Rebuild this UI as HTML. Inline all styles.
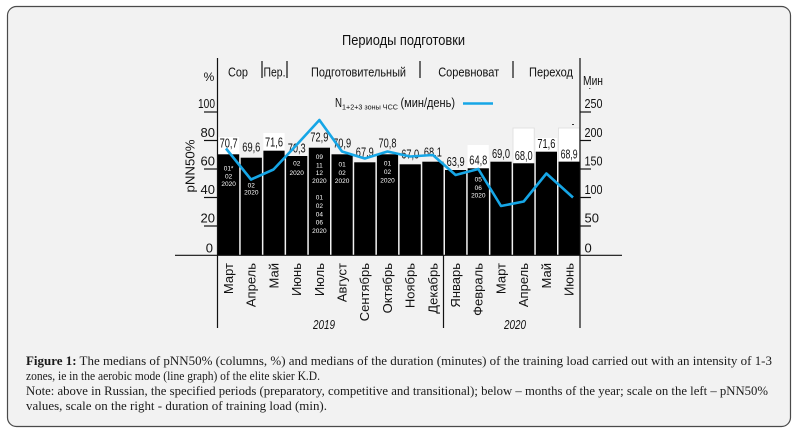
<!DOCTYPE html>
<html><head><meta charset="utf-8"><style>
html,body{margin:0;padding:0;background:#fff;}
svg{display:block;}
.s{font-family:"Liberation Sans","DejaVu Sans",sans-serif;fill:#111;}
.w{font-family:"Liberation Sans",sans-serif;fill:#fff;font-size:6.5px;text-anchor:middle;}
.c{font-family:"Liberation Serif","DejaVu Serif",serif;fill:#1a1a1a;font-size:12.5px;}
</style></head><body>
<svg width="797" height="434" viewBox="0 0 797 434" xmlns="http://www.w3.org/2000/svg">
<rect x="7.5" y="6.5" width="783" height="420" rx="9" fill="#f2f2f2" stroke="#4a4a4a" stroke-width="1.2"/>

<!-- title -->
<text class="s" x="403.5" y="45" font-size="15" text-anchor="middle" textLength="123" lengthAdjust="spacingAndGlyphs">Периоды подготовки</text>

<!-- period row -->
<g class="s" font-size="12.5">
<text x="238" y="76.5" text-anchor="middle" textLength="20" lengthAdjust="spacingAndGlyphs">Сор</text>
<text x="274.5" y="76.5" text-anchor="middle" textLength="22" lengthAdjust="spacingAndGlyphs">Пер.</text>
<text x="358.5" y="76.5" text-anchor="middle" textLength="95" lengthAdjust="spacingAndGlyphs">Подготовительный</text>
<text x="468.7" y="76.5" text-anchor="middle" textLength="61" lengthAdjust="spacingAndGlyphs">Соревноват</text>
<text x="551" y="76.5" text-anchor="middle" textLength="44" lengthAdjust="spacingAndGlyphs">Переход</text>
<text x="209" y="81" text-anchor="middle" font-size="12">%</text>
<text x="583" y="85" textLength="20" lengthAdjust="spacingAndGlyphs">Мин</text>
</g>
<g stroke="#111" stroke-width="1.2">
<line x1="262" y1="61" x2="262" y2="78"/>
<line x1="287" y1="61" x2="287" y2="78"/>
<line x1="420" y1="61" x2="420" y2="78"/>
<line x1="513" y1="61" x2="513" y2="78"/>
</g>
<rect x="589" y="88" width="1.5" height="1" fill="#555"/>
<rect x="572" y="124" width="2" height="1" fill="#333"/>

<!-- legend -->
<text class="s" x="335" y="107" font-size="13" textLength="7" lengthAdjust="spacingAndGlyphs">N</text>
<text class="s" x="342" y="109.5" font-size="7.5" textLength="56" lengthAdjust="spacingAndGlyphs">1+2+3 зоны ЧСС</text>
<text class="s" x="400.5" y="107" font-size="13" textLength="54.5" lengthAdjust="spacingAndGlyphs">(мин/день)</text>
<line x1="463" y1="103.5" x2="493" y2="103.5" stroke="#16a6e6" stroke-width="2.6"/>

<!-- white label boxes -->
<g fill="#ffffff">
<rect x="218" y="137" width="21.2" height="17.3"/>
<rect x="263.4" y="133" width="21.2" height="17.7"/>
<rect x="467.6" y="145" width="21.2" height="23.3"/>
<rect x="513" y="128" width="21.2" height="35.3" stroke="#ddd" stroke-width="0.8"/>
<rect x="535.7" y="138" width="21.2" height="13.7"/>
<rect x="558.4" y="128" width="21.2" height="33.7" stroke="#ddd" stroke-width="0.8"/>
</g>

<!-- bars -->
<g fill="#000">
<rect x="218.0" y="154.3" width="21.2" height="100.7"/>
<rect x="240.7" y="157.7" width="21.2" height="97.3"/>
<rect x="263.4" y="150.7" width="21.2" height="104.3"/>
<rect x="286.1" y="156.0" width="21.2" height="99.0"/>
<rect x="308.8" y="147.7" width="21.2" height="107.3"/>
<rect x="331.5" y="154.3" width="21.2" height="100.7"/>
<rect x="354.2" y="162.3" width="21.2" height="92.7"/>
<rect x="376.9" y="154.3" width="21.2" height="100.7"/>
<rect x="399.6" y="164.3" width="21.2" height="90.7"/>
<rect x="422.3" y="161.7" width="21.2" height="93.3"/>
<rect x="445.0" y="170.0" width="21.2" height="85.0"/>
<rect x="467.7" y="168.3" width="21.2" height="86.7"/>
<rect x="490.4" y="161.7" width="21.2" height="93.3"/>
<rect x="513.1" y="163.3" width="21.2" height="91.7"/>
<rect x="535.8" y="151.7" width="21.2" height="103.3"/>
<rect x="558.5" y="161.7" width="21.2" height="93.3"/>
</g>

<!-- value labels -->
<g class="s" font-size="12.5" text-anchor="middle">
<text x="228.6" y="147.5" textLength="18" lengthAdjust="spacingAndGlyphs">70,7</text>
<text x="251.3" y="151.5" textLength="18" lengthAdjust="spacingAndGlyphs">69,6</text>
<text x="274.0" y="146.5" textLength="18" lengthAdjust="spacingAndGlyphs">71,6</text>
<text x="296.7" y="152.5" textLength="18" lengthAdjust="spacingAndGlyphs">70,3</text>
<text x="319.4" y="141.5" textLength="18" lengthAdjust="spacingAndGlyphs">72,9</text>
<text x="342.1" y="147.5" textLength="18" lengthAdjust="spacingAndGlyphs">70,9</text>
<text x="364.8" y="156.5" textLength="18" lengthAdjust="spacingAndGlyphs">67,9</text>
<text x="387.5" y="147.5" textLength="18" lengthAdjust="spacingAndGlyphs">70,8</text>
<text x="410.2" y="158.5" textLength="18" lengthAdjust="spacingAndGlyphs">67,0</text>
<text x="432.9" y="156.5" textLength="18" lengthAdjust="spacingAndGlyphs">68,1</text>
<text x="455.6" y="166" textLength="18" lengthAdjust="spacingAndGlyphs">63,9</text>
<text x="478.3" y="164.5" textLength="18" lengthAdjust="spacingAndGlyphs">64,8</text>
<text x="501.0" y="157.8" textLength="18" lengthAdjust="spacingAndGlyphs">69,0</text>
<text x="523.7" y="160" textLength="18" lengthAdjust="spacingAndGlyphs">68,0</text>
<text x="546.4" y="147.8" textLength="18" lengthAdjust="spacingAndGlyphs">71,6</text>
<text x="569.1" y="158.5" textLength="17" lengthAdjust="spacingAndGlyphs">68,9</text>
</g>

<!-- white small text inside bars -->
<g class="w">
<text x="228.6" y="170.5">01*</text><text x="228.6" y="178.5">02</text><text x="228.6" y="186">2020</text>
<text x="251.3" y="187.5">02</text><text x="251.3" y="194.5">2020</text>
<text x="296.7" y="165.5">02</text><text x="296.7" y="175">2020</text>
<text x="319.4" y="159">09</text><text x="319.4" y="167.5">11</text><text x="319.4" y="175">12</text><text x="319.4" y="183">2020</text>
<text x="319.4" y="199.5">01</text><text x="319.4" y="208">02</text><text x="319.4" y="216.5">04</text><text x="319.4" y="224.5">06</text><text x="319.4" y="233">2020</text>
<text x="342.1" y="166.5">01</text><text x="342.1" y="175">02</text><text x="342.1" y="183">2020</text>
<text x="387.5" y="165.5">01</text><text x="387.5" y="174">02</text><text x="387.5" y="182.5">2020</text>
<text x="478.3" y="181.5">05</text><text x="478.3" y="190">06</text><text x="478.3" y="197.5">2020</text>
</g>

<!-- line series -->
<polyline fill="none" stroke="#16a6e6" stroke-width="2.6" stroke-linejoin="round" points="226,148.5 251,179.5 273.5,169.5 296.5,145 319.4,120 342,151.5 364.8,158.5 387.5,151.5 410,156.5 432.9,155 455.6,175 478.3,169 501,206 523.7,201.5 546.4,173.5 573,197.5"/>

<!-- axes -->
<g stroke="#111" stroke-width="1.2">
<line x1="217.5" y1="58" x2="217.5" y2="328"/>
<line x1="580" y1="58" x2="580" y2="328"/>
<line x1="443.5" y1="255" x2="443.5" y2="328"/>
<line x1="175" y1="255.3" x2="622" y2="255.3"/>
<line x1="204" y1="112" x2="217.5" y2="112"/>
<line x1="204" y1="140.5" x2="217.5" y2="140.5"/>
<line x1="204" y1="169" x2="217.5" y2="169"/>
<line x1="204" y1="197.5" x2="217.5" y2="197.5"/>
<line x1="204" y1="226" x2="217.5" y2="226"/>
<line x1="580" y1="112" x2="591" y2="112"/>
<line x1="580" y1="140.5" x2="591" y2="140.5"/>
<line x1="580" y1="169" x2="591" y2="169"/>
<line x1="580" y1="197.5" x2="591" y2="197.5"/>
<line x1="580" y1="226" x2="591" y2="226"/>
</g>

<!-- left axis labels -->
<g class="s" font-size="13" text-anchor="end">
<text x="215" y="108" textLength="17" lengthAdjust="spacingAndGlyphs">100</text>
<text x="215" y="137">80</text>
<text x="215" y="165.5">60</text>
<text x="215" y="194">40</text>
<text x="215" y="222.5">20</text>
<text x="213" y="252.5">0</text>
</g>
<text class="s" font-size="13" text-anchor="middle" transform="translate(194.5,166) rotate(-90)" textLength="53" lengthAdjust="spacingAndGlyphs">pNN50%</text>

<!-- right axis labels -->
<g class="s" font-size="13">
<text x="584.5" y="108" textLength="18" lengthAdjust="spacingAndGlyphs">250</text>
<text x="584.5" y="137" textLength="18" lengthAdjust="spacingAndGlyphs">200</text>
<text x="584.5" y="165.5" textLength="18" lengthAdjust="spacingAndGlyphs">150</text>
<text x="584.5" y="194" textLength="18" lengthAdjust="spacingAndGlyphs">100</text>
<text x="584.5" y="222.5">50</text>
<text x="584.5" y="252.5">0</text>
</g>

<!-- month labels -->
<g class="s" font-size="13" text-anchor="end">
<text transform="translate(233,263) rotate(-90)">Март</text>
<text transform="translate(255.7,263) rotate(-90)">Апрель</text>
<text transform="translate(278.4,263) rotate(-90)">Май</text>
<text transform="translate(301.1,263) rotate(-90)">Июнь</text>
<text transform="translate(323.8,263) rotate(-90)">Июль</text>
<text transform="translate(346.5,263) rotate(-90)">Август</text>
<text transform="translate(369.2,263) rotate(-90)">Сентябрь</text>
<text transform="translate(391.9,263) rotate(-90)">Октябрь</text>
<text transform="translate(414.6,263) rotate(-90)">Ноябрь</text>
<text transform="translate(437.3,263) rotate(-90)">Декабрь</text>
<text transform="translate(460,263) rotate(-90)">Январь</text>
<text transform="translate(482.7,263) rotate(-90)">Февраль</text>
<text transform="translate(505.4,263) rotate(-90)">Март</text>
<text transform="translate(528.1,263) rotate(-90)">Апрель</text>
<text transform="translate(550.8,263) rotate(-90)">Май</text>
<text transform="translate(573.5,263) rotate(-90)">Июнь</text>
</g>
<text class="s" x="324" y="329" font-size="13" font-style="italic" text-anchor="middle" textLength="22" lengthAdjust="spacingAndGlyphs">2019</text>
<text class="s" x="515" y="329" font-size="13" font-style="italic" text-anchor="middle" textLength="22" lengthAdjust="spacingAndGlyphs">2020</text>

<!-- caption -->
<text class="c" x="26" y="365" textLength="746" lengthAdjust="spacingAndGlyphs"><tspan font-weight="bold">Figure 1:</tspan> The medians of pNN50% (columns, %) and medians of the duration (minutes) of the training load carried out with an intensity of 1-3</text>
<text class="c" x="26" y="380" textLength="294" lengthAdjust="spacingAndGlyphs">zones, ie in the aerobic mode (line graph) of the elite skier K.D.</text>
<text class="c" x="26" y="395" textLength="742" lengthAdjust="spacingAndGlyphs">Note: above in Russian, the specified periods (preparatory, competitive and transitional); below – months of the year; scale on the left – pNN50%</text>
<text class="c" x="26" y="410" textLength="301" lengthAdjust="spacingAndGlyphs">values, scale on the right - duration of training load (min).</text>
</svg>
</body></html>
